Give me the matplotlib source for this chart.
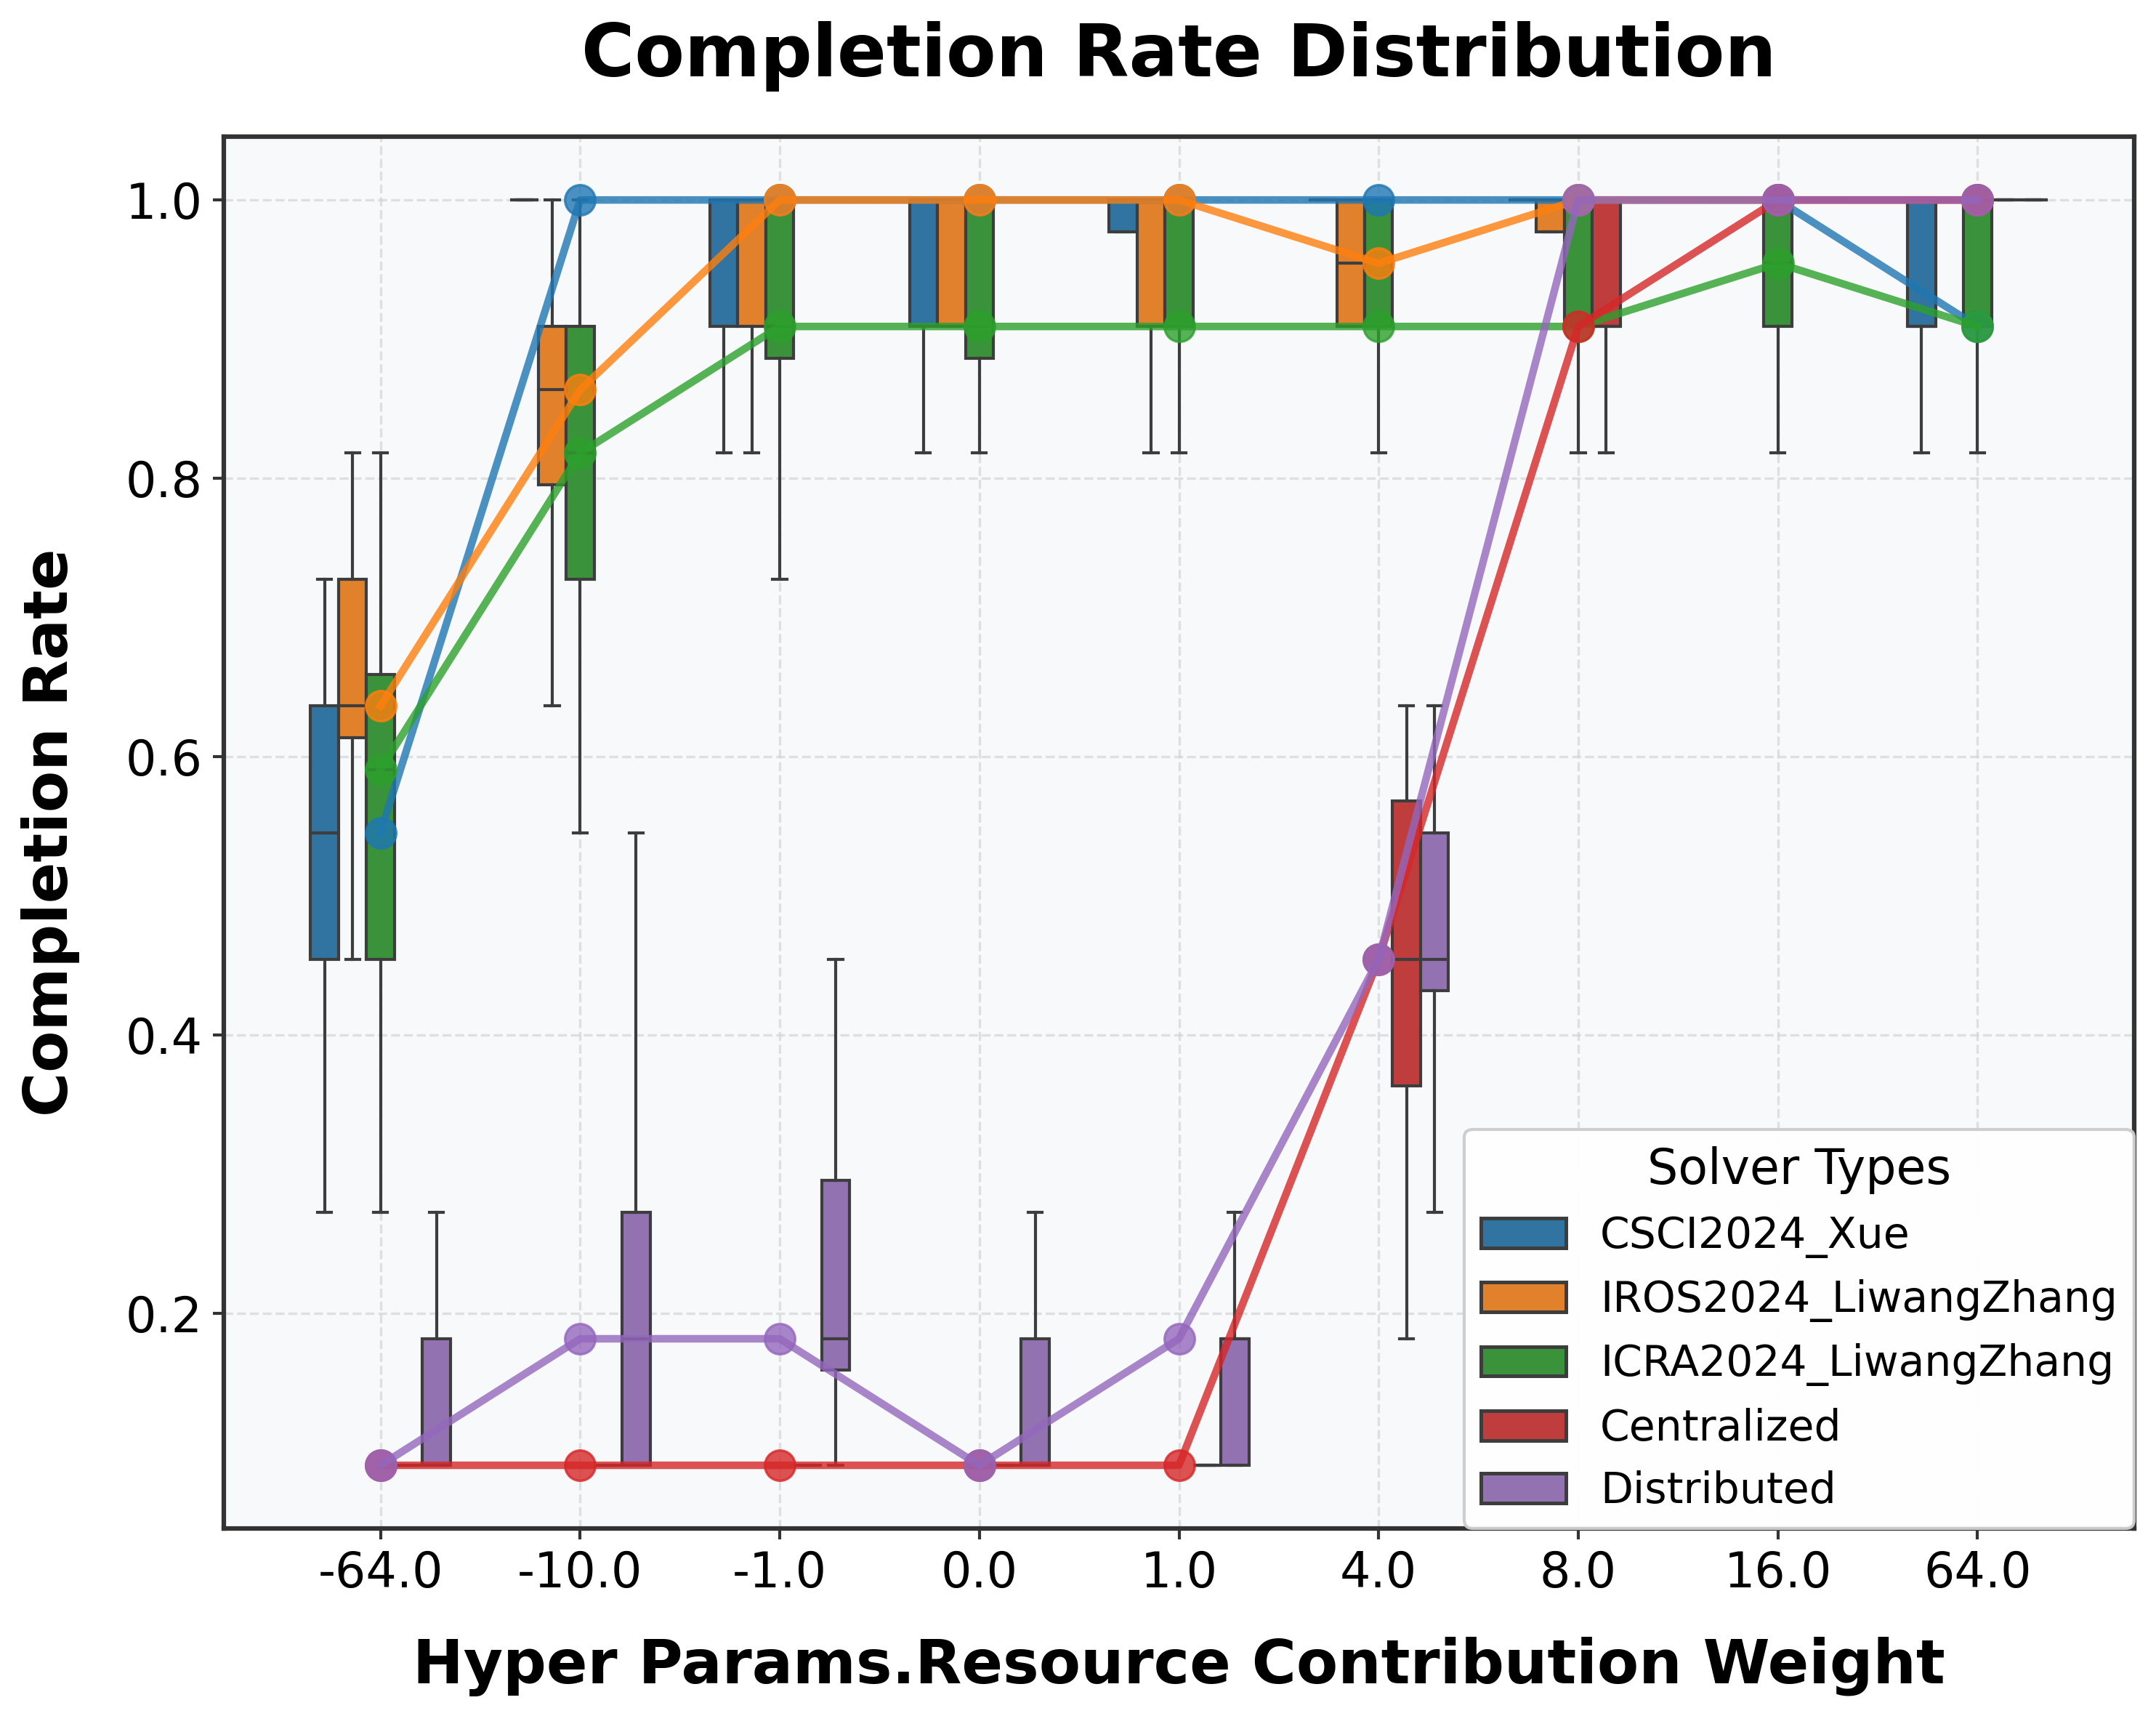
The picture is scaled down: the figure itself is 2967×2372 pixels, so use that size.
import numpy as np
import matplotlib
matplotlib.use("Agg")
import matplotlib.pyplot as plt
from matplotlib.patches import Patch
import seaborn as sns

# ---------------- data ----------------
CATEGORIES = ["-64.0", "-10.0", "-1.0", "0.0", "1.0", "4.0", "8.0", "16.0", "64.0"]
SOLVERS = ["CSCI2024_Xue", "IROS2024_LiwangZhang", "ICRA2024_LiwangZhang",
           "Centralized", "Distributed"]

# rows = solvers (in SOLVERS order), columns = categories
Q1 = np.array([
    [0.4545, 1.0000, 0.9091, 0.9091, 0.9773, 1.0000, 1.0000, 1.0000, 0.9091],
    [0.6136, 0.7955, 0.9091, 0.9091, 0.9091, 0.9091, 0.9773, 1.0000, 1.0000],
    [0.4545, 0.7273, 0.8864, 0.8864, 0.9091, 0.9091, 0.9091, 0.9091, 0.9091],
    [0.0909, 0.0909, 0.0909, 0.0909, 0.0909, 0.3636, 0.9091, 1.0000, 1.0000],
    [0.0909, 0.0909, 0.1591, 0.0909, 0.0909, 0.4318, 1.0000, 1.0000, 1.0000],
])
MEDIAN = np.array([
    [0.5455, 1.0000, 1.0000, 1.0000, 1.0000, 1.0000, 1.0000, 1.0000, 0.9091],
    [0.6364, 0.8636, 1.0000, 1.0000, 1.0000, 0.9545, 1.0000, 1.0000, 1.0000],
    [0.5909, 0.8182, 0.9091, 0.9091, 0.9091, 0.9091, 0.9091, 0.9545, 0.9091],
    [0.0909, 0.0909, 0.0909, 0.0909, 0.0909, 0.4545, 0.9091, 1.0000, 1.0000],
    [0.0909, 0.1818, 0.1818, 0.0909, 0.1818, 0.4545, 1.0000, 1.0000, 1.0000],
])
Q3 = np.array([
    [0.6364, 1.0000, 1.0000, 1.0000, 1.0000, 1.0000, 1.0000, 1.0000, 1.0000],
    [0.7273, 0.9091, 1.0000, 1.0000, 1.0000, 1.0000, 1.0000, 1.0000, 1.0000],
    [0.6591, 0.9091, 1.0000, 1.0000, 1.0000, 1.0000, 1.0000, 1.0000, 1.0000],
    [0.0909, 0.0909, 0.0909, 0.0909, 0.0909, 0.5682, 1.0000, 1.0000, 1.0000],
    [0.1818, 0.2727, 0.2955, 0.1818, 0.1818, 0.5455, 1.0000, 1.0000, 1.0000],
])
WHIS_LO = np.array([
    [0.2727, 1.0000, 0.8182, 0.8182, 0.9773, 1.0000, 1.0000, 1.0000, 0.8182],
    [0.4545, 0.6364, 0.8182, 0.9091, 0.8182, 0.9091, 0.9773, 1.0000, 1.0000],
    [0.2727, 0.5455, 0.7273, 0.8182, 0.8182, 0.8182, 0.8182, 0.8182, 0.8182],
    [0.0909, 0.0909, 0.0909, 0.0909, 0.0909, 0.1818, 0.8182, 1.0000, 1.0000],
    [0.0909, 0.0909, 0.0909, 0.0909, 0.0909, 0.2727, 1.0000, 1.0000, 1.0000],
])
WHIS_HI = np.array([
    [0.7273, 1.0000, 1.0000, 1.0000, 1.0000, 1.0000, 1.0000, 1.0000, 1.0000],
    [0.8182, 1.0000, 1.0000, 1.0000, 1.0000, 1.0000, 1.0000, 1.0000, 1.0000],
    [0.8182, 1.0000, 1.0000, 1.0000, 1.0000, 1.0000, 1.0000, 1.0000, 1.0000],
    [0.0909, 0.0909, 0.0909, 0.0909, 0.0909, 0.6364, 1.0000, 1.0000, 1.0000],
    [0.2727, 0.5455, 0.4545, 0.2727, 0.2727, 0.6364, 1.0000, 1.0000, 1.0000],
])

# ---------------- style ----------------
LINE_COLORS = sns.color_palette("tab10", len(SOLVERS))
BOX_COLORS = sns.color_palette("tab10", len(SOLVERS), desat=0.75)
EDGE = "#3d3d3d"
BOX_LW = 1.0
BOX_W = 0.14

fig = plt.figure(figsize=(2967 / 300, 2372 / 300), dpi=300)
ax = fig.add_axes([308 / 2967, 1 - 2103 / 2372, (2937 - 308) / 2967, (2103 - 188) / 2372])
ax.set_facecolor("#f8f9fa")
ax.set_axisbelow(True)
ax.grid(True, linestyle="--", linewidth=0.8, color="#d4d4d4", alpha=0.7)

x = np.arange(len(CATEGORIES))
n = len(SOLVERS)
for s in range(n):
    stats = []
    for i in range(len(CATEGORIES)):
        stats.append(dict(med=MEDIAN[s, i], q1=Q1[s, i], q3=Q3[s, i],
                          whislo=WHIS_LO[s, i], whishi=WHIS_HI[s, i], fliers=[]))
    pos = x + (s - (n - 1) / 2) * BOX_W
    ax.bxp(stats, positions=pos, widths=BOX_W, patch_artist=True,
           showfliers=False, manage_ticks=False,
           boxprops=dict(facecolor=BOX_COLORS[s], edgecolor=EDGE, linewidth=BOX_LW),
           medianprops=dict(color=EDGE, linewidth=BOX_LW),
           whiskerprops=dict(color=EDGE, linewidth=BOX_LW),
           capprops=dict(color=EDGE, linewidth=BOX_LW),
           zorder=2)

for s in range(n):
    ax.plot(x, MEDIAN[s], color=LINE_COLORS[s], linewidth=2.5, marker="o",
            markersize=10, markeredgewidth=0.8, alpha=0.8, zorder=5)

ax.set_xlim(-0.785, 8.785)
ax.set_ylim(0.0455, 1.0455)
ax.set_xticks(x)
ax.set_xticklabels(CATEGORIES)
ax.set_yticks([0.2, 0.4, 0.6, 0.8, 1.0])
ax.set_yticklabels(["0.2", "0.4", "0.6", "0.8", "1.0"])
ax.tick_params(axis="both", labelsize=16, length=3.5, width=1.0, color="#333333")

for sp in ax.spines.values():
    sp.set_color("#333333")
    sp.set_linewidth(1.5)

ax.set_title("Completion Rate Distribution", fontsize=24, fontweight="bold", pad=20)
ax.set_xlabel("Hyper Params.Resource Contribution Weight", fontsize=20,
              fontweight="bold", labelpad=13)
ax.set_ylabel("Completion Rate", fontsize=20, fontweight="bold", labelpad=15)

handles = [Patch(facecolor=BOX_COLORS[s], edgecolor=EDGE, linewidth=BOX_LW * 1.2, label=SOLVERS[s])
           for s in range(n)]
leg = ax.legend(handles=handles, title="Solver Types", loc="lower right",
                fontsize=14, title_fontsize=16, borderaxespad=0.0,
                fancybox=True, framealpha=0.95)
leg.get_frame().set_edgecolor("#cccccc")
leg.get_frame().set_linewidth(1.0)
leg.set_zorder(10)

fig.savefig("out.png", dpi=300)
